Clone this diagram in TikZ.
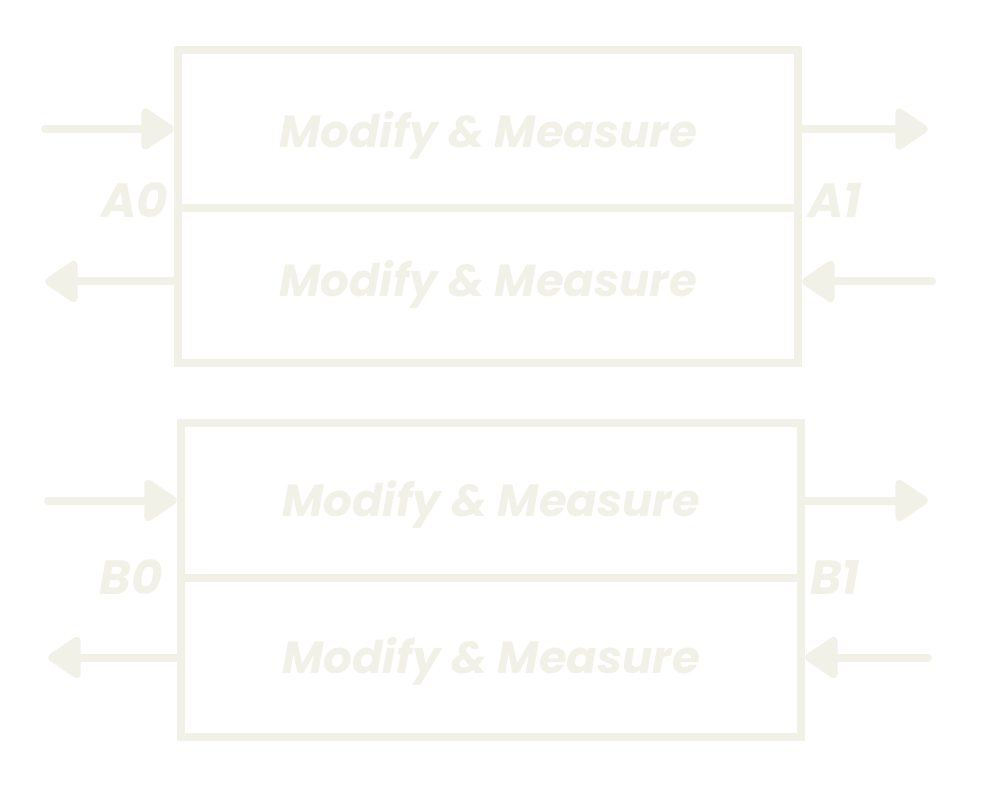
\documentclass[tikz,border=0pt]{standalone}
\usepackage{fontspec}
\newfontfamily\diagfont{Poppins}
\usetikzlibrary{arrows.meta,positioning}
\definecolor{chalk}{HTML}{F2F1E8}

\begin{document}
\begin{tikzpicture}[
  x=1pt, y=-1pt,
  >={Triangle[length=36pt, width=46pt, round]},
  half/.style={draw=chalk, line width=8pt, minimum width=620pt, inner sep=0pt,
               text height=32pt, text depth=0pt,
               font=\diagfont\bfseries\itshape\fontsize{45}{52}\selectfont, text=chalk},
  port/.style={font=\diagfont\bfseries\itshape\fontsize{48}{54}\selectfont, text=chalk, inner sep=0pt},
  flow/.style={draw=chalk, line width=8pt, line cap=round, ->}
]
\fill[white] (0,0) rectangle (994,802);
\useasboundingbox (0,0) rectangle (994,802);

% upper block
\node[half, minimum height=158pt, text height=37pt] (topA) at (488,129) {Modify \& Measure};
\node[half, minimum height=155pt, text depth=10pt] (botA) at (488,285.5) {Modify \& Measure};
\node[port, anchor=south east] (a0) at (168,218) {A0};
\node[port, anchor=south west] (a1) at (808,218) {A1};

% lower block
\node[half, minimum height=155pt] (topB) at (491,500.5) {Modify \& Measure};
\node[half, minimum height=159pt] (botB) at (491,657.5) {Modify \& Measure};
\node[port, anchor=south east] (b0) at (163,595) {B0};
\node[port, anchor=south west] (b1) at (810,595) {B1};

\coordinate (inA) at (45,129);
\coordinate (outA) at (928,129);
\coordinate (backA) at (45,281.5);
\coordinate (retA) at (932,281.5);
\coordinate (inB) at (48,500.5);
\coordinate (outB) at (928,500.5);
\coordinate (backB) at (48,657.5);
\coordinate (retB) at (928,657.5);

\draw[flow] (inA) -- (topA.west);
\draw[flow] (topA.east) -- (outA);
\draw[flow] ([yshift=4pt]botA.west) -- (backA);
\draw[flow] (retA) -- ([yshift=4pt]botA.east);
\draw[flow] (inB) -- (topB.west);
\draw[flow] (topB.east) -- (outB);
\draw[flow] (botB.west) -- (backB);
\draw[flow] (retB) -- (botB.east);
\end{tikzpicture}
\end{document}
